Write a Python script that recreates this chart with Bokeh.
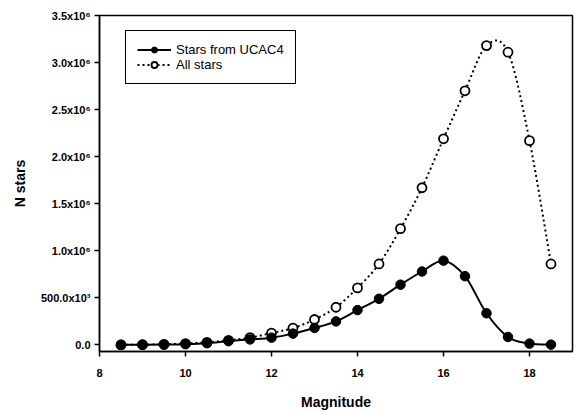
from bokeh.plotting import figure
from bokeh.models import Range1d, FixedTicker, ColumnDataSource, Legend, LegendItem
from bokeh.embed import file_html
from bokeh.resources import INLINE
import numpy as np

magnitude = [8.5, 9, 9.5, 10, 10.5, 11, 11.5, 12, 12.5, 13, 13.5, 14, 14.5,
             15, 15.5, 16, 16.5, 17, 17.5, 18, 18.5]
ucac4 = [0.001e6, 0.002e6, 0.004e6, 0.008e6, 0.018e6, 0.040e6, 0.058e6, 0.077e6,
         0.120e6, 0.180e6, 0.250e6, 0.370e6, 0.490e6, 0.640e6, 0.780e6, 0.895e6,
         0.730e6, 0.336e6, 0.084e6, 0.014e6, 0.003e6]
all_stars = [0.0e6, 0.002e6, 0.006e6, 0.014e6, 0.028e6, 0.049e6, 0.077e6, 0.126e6,
             0.179e6, 0.270e6, 0.400e6, 0.606e6, 0.860e6, 1.235e6, 1.670e6, 2.190e6,
             2.700e6, 3.180e6, 3.110e6, 2.170e6, 0.860e6]

x_ticks = [8, 10, 12, 14, 16, 18]
y_ticks = [0, 0.5e6, 1.0e6, 1.5e6, 2.0e6, 2.5e6, 3.0e6, 3.5e6]
y_tick_labels = ["0.0", "500.0x10³", "1.0x10⁶", "1.5x10⁶", "2.0x10⁶",
                 "2.5x10⁶", "3.0x10⁶", "3.5x10⁶"]

FONT = "Liberation Sans"


def bezier_source(xs, ys):
    # Catmull-Rom spline through the data points, as cubic Bezier segments
    x = np.array(xs, dtype=float)
    y = np.array(ys, dtype=float)
    xp = np.concatenate([[x[0]], x, [x[-1]]])
    yp = np.concatenate([[y[0]], y, [y[-1]]])
    n = len(x) - 1
    x0 = x[:-1]; y0 = y[:-1]; x1 = x[1:]; y1 = y[1:]
    cx0 = x0 + (xp[2:n + 2] - xp[0:n]) / 6.0
    cy0 = y0 + (yp[2:n + 2] - yp[0:n]) / 6.0
    cx1 = x1 - (xp[3:n + 3] - xp[1:n + 1]) / 6.0
    cy1 = y1 - (yp[3:n + 3] - yp[1:n + 1]) / 6.0
    return ColumnDataSource(dict(x0=x0, y0=y0, x1=x1, y1=y1,
                                 cx0=cx0, cy0=cy0, cx1=cx1, cy1=cy1))


p = figure(width=574, height=412, output_backend="svg", toolbar_location=None,
           x_range=Range1d(8, 19), y_range=Range1d(-0.07e6, 3.5e6),
           min_border_left=99, min_border_right=2, min_border_top=15,
           min_border_bottom=57)

p.background_fill_color = "white"
p.border_fill_color = "white"
p.outline_line_color = "black"
p.outline_line_width = 1.5
p.xgrid.visible = False
p.ygrid.visible = False

# All stars (dotted, open circles)
src_all = bezier_source(magnitude, all_stars)
r_all_line = p.bezier(x0="x0", y0="y0", x1="x1", y1="y1", cx0="cx0", cy0="cy0",
                      cx1="cx1", cy1="cy1", source=src_all, line_color="black",
                      line_width=2, line_dash="2 3")
r_all_pts = p.scatter(magnitude, all_stars, size=9, marker="circle",
                      fill_color="white", line_color="black", line_width=1.8)

# Stars from UCAC4 (solid, filled circles)
src_u = bezier_source(magnitude, ucac4)
r_u_line = p.bezier(x0="x0", y0="y0", x1="x1", y1="y1", cx0="cx0", cy0="cy0",
                    cx1="cx1", cy1="cy1", source=src_u, line_color="black",
                    line_width=2)
r_u_pts = p.scatter(magnitude, ucac4, size=9.5, marker="circle",
                    fill_color="black", line_color="black", line_width=1)

legend = Legend(items=[
    LegendItem(label="Stars from UCAC4", renderers=[r_u_line, r_u_pts]),
    LegendItem(label="All stars", renderers=[r_all_line, r_all_pts]),
], location=(26, 267))
legend.border_line_color = "black"
legend.border_line_alpha = 1
legend.border_line_width = 1.2
legend.background_fill_alpha = 1
legend.padding = 11
legend.spacing = 0
legend.margin = 0
legend.glyph_width = 34
legend.glyph_height = 15
legend.label_height = 15
legend.label_standoff = 5
legend.label_text_font = FONT
legend.label_text_font_size = "13px"
legend.label_text_color = "black"
legend.label_text_baseline = "middle"
p.add_layout(legend)

for ax in (p.xaxis[0], p.yaxis[0]):
    ax.axis_line_color = "black"
    ax.axis_line_width = 1.5
    ax.major_tick_line_color = "black"
    ax.major_tick_line_width = 1.5
    ax.major_tick_out = 5
    ax.major_tick_in = 0
    ax.minor_tick_line_color = None
    ax.major_label_text_font = FONT
    ax.major_label_text_font_style = "bold"
    ax.major_label_text_font_size = "11px"
    ax.major_label_text_color = "black"
    ax.axis_label_text_font = FONT
    ax.axis_label_text_font_style = "bold"
    ax.axis_label_text_font_size = "14px"
    ax.axis_label_text_color = "black"

p.xaxis.ticker = FixedTicker(ticks=x_ticks)
p.xaxis.axis_label = "Magnitude"
p.xaxis.major_label_standoff = 12
p.xaxis.axis_label_standoff = 14

p.yaxis.ticker = FixedTicker(ticks=y_ticks)
p.yaxis.major_label_overrides = {t: lab for t, lab in zip(y_ticks, y_tick_labels)}
p.yaxis.axis_label = "N stars"
p.yaxis.major_label_standoff = 4
p.yaxis.axis_label_standoff = 10

open("out.html", "w").write(file_html(p, INLINE))
